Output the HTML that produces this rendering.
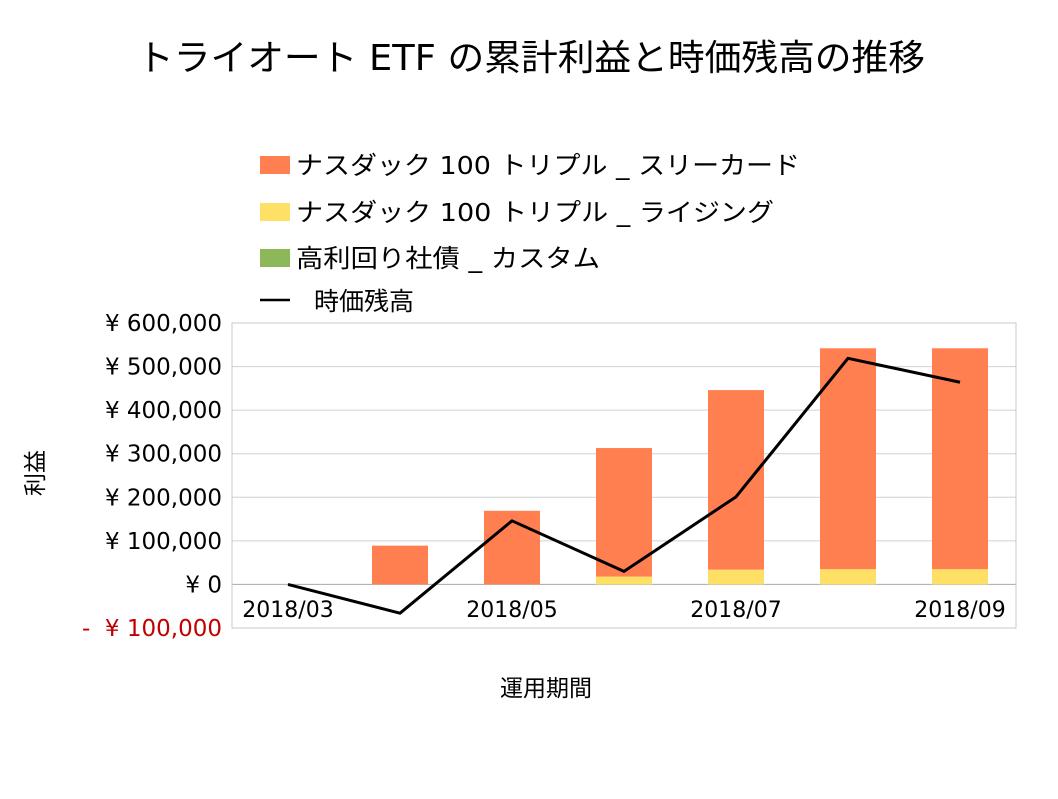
<!DOCTYPE html>
<html><head><meta charset="utf-8"><style>
body{margin:0;background:#fff;}
svg text{font-family:"DejaVu Sans","Noto Sans CJK JP",sans-serif;}
</style></head><body>
<svg width="1058" height="794" xmlns="http://www.w3.org/2000/svg" id="chart">
<rect width="1058" height="794" fill="#fff"/>
<text x="531" y="70" font-size="36" text-anchor="middle" textLength="788" lengthAdjust="spacingAndGlyphs">トライオート ETF の累計利益と時価残高の推移</text>
<g>
<rect x="260" y="156" width="30" height="18" fill="#FF7F50"/>
<text x="296" y="174" font-size="25" textLength="504" lengthAdjust="spacingAndGlyphs">ナスダック 100 トリプル _ スリーカード</text>
<rect x="260" y="203" width="30" height="18" fill="#FFE066"/>
<text x="296" y="221" font-size="25" textLength="478" lengthAdjust="spacingAndGlyphs">ナスダック 100 トリプル _ ライジング</text>
<rect x="260" y="249" width="30" height="18" fill="#8DB85A"/>
<text x="296" y="267" font-size="25" textLength="304" lengthAdjust="spacingAndGlyphs">高利回り社債 _ カスタム</text>
<line x1="260" y1="300" x2="290" y2="300" stroke="#000" stroke-width="2.5"/>
<text x="314" y="310" font-size="25">時価残高</text>
</g>
<text transform="translate(43,473) rotate(-90)" font-size="23" text-anchor="middle">利益</text>
<text x="546" y="696" font-size="23" text-anchor="middle">運用期間</text>
<g id="grid"></g><g id="bars"></g><g id="line"></g><g id="ticks"></g>
</svg>
<script>
const categories=["2018/03","2018/04","2018/05","2018/06","2018/07","2018/08","2018/09"];
const threeCard=[0,89000,169000,295000,412000,507000,507000];
const rising=[0,0,0,18000,34000,35000,35000];
const custom=[0,0,0,0,0,0,0];
const marketValue=[0,-66000,146000,30000,201000,519000,464000];
const yTicks=[-100000,0,100000,200000,300000,400000,500000,600000];
const yTickLabels=["-  ¥ 100,000","¥ 0","¥ 100,000","¥ 200,000","¥ 300,000","¥ 400,000","¥ 500,000","¥ 600,000"];
const xLabelIdx=[0,2,4,6];

const L=232,R=1016,T=323,B=628,ymin=-100000,ymax=600000;
const ns="http://www.w3.org/2000/svg";
const y=v=>B-(v-ymin)/(ymax-ymin)*(B-T);
const bw=(R-L)/categories.length;
const x=i=>L+bw*(i+0.5);
function mk(tag,attrs,parent){const e=document.createElementNS(ns,tag);for(const k in attrs)e.setAttribute(k,attrs[k]);document.getElementById(parent).appendChild(e);return e;}
const grid="grid";
yTicks.forEach((t,i)=>{
 const g=mk("line",{x1:L,x2:R,y1:y(t),y2:y(t),stroke:t===0?"#aaa":"#d0d0d0","stroke-width":1},grid);
 
 
 const tx=mk("text",{x:222,y:y(t)+8,"font-size":23,"text-anchor":"end",fill:t<0?"#c00000":"#000","xml:space":"preserve"},"ticks");
 tx.setAttribute("style","white-space:pre");
 tx.textContent=yTickLabels[i];
 
 
});
const fr=mk("rect",{x:L,y:T,width:R-L,height:B-T,fill:"none",stroke:"#c8c8c8"},grid);


categories.forEach((c,i)=>{
 let base=0;
 [[custom,"#8DB85A","bar-custom"],[rising,"#FFE066","bar-rising"],[threeCard,"#FF7F50","bar-three-card"]].forEach(([arr,col,name])=>{
  const v=arr[i]; if(v<=0)return;
  const r=mk("rect",{x:x(i)-28,width:56,y:y(base+v),height:y(base)-y(base+v),fill:col},"bars");
  
  
  base+=v;
 });
});
const pts=marketValue.map((v,i)=>x(i)+","+y(v)).join(" ");
const pl=mk("polyline",{points:pts,fill:"none",stroke:"#000","stroke-width":3,"stroke-linejoin":"round"},"line");


xLabelIdx.forEach(i=>{
 const t=mk("text",{x:x(i),y:617,"font-size":22,"text-anchor":"middle"},"ticks");
 t.textContent=categories[i];
 
 
});
</script>
</body></html>
